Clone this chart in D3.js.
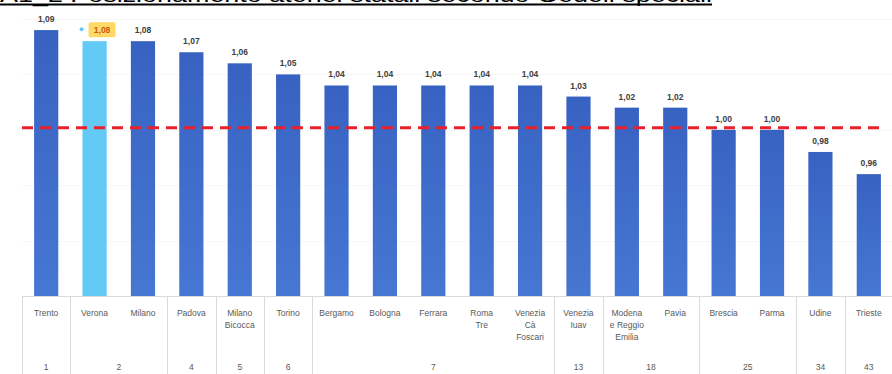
<!DOCTYPE html>
<meta charset="utf-8">
<style>
    body { margin: 0; background: #fff; }
    .val { font: bold 8.5px "Liberation Sans", Arial, sans-serif; fill: #404040; }
    .cat { font: 8.5px "Liberation Sans", Arial, sans-serif; fill: #595959; }
    .sep { stroke: #dadada; stroke-width: 1; }
    .grid { stroke: #f6f6f6; stroke-width: 1; }
</style>
<body>
<script src="https://d3js.org/d3.v7.min.js"></script>
<script>
// data
var atenei = ["Trento", "Verona", "Milano", "Padova", "Milano\nBicocca", "Torino", "Bergamo", "Bologna", "Ferrara",
    "Roma\nTre", "Venezia\nCà\nFoscari", "Venezia\nIuav", "Modena\ne Reggio\nEmilia", "Pavia", "Brescia", "Parma", "Udine", "Trieste"];
var valori = [1.09, 1.08, 1.08, 1.07, 1.06, 1.05, 1.04, 1.04, 1.04, 1.04, 1.04, 1.03, 1.02, 1.02, 1.00, 1.00, 0.98, 0.96];
var posizioni = [1, 2, 2, 4, 5, 6, 7, 7, 7, 7, 7, 13, 18, 18, 25, 25, 34, 43];
var soglia = 1.00;
var evidenziato = "Verona";
var gridTicks = [0.90, 0.95, 1.00, 1.05, 1.10];

var width = 892, height = 374;
var svg = d3.select("body").append("svg")
    .attr("width", width)
    .attr("height", height);

// title (cut off at the top, as in the original screenshot)
svg.append("text")
    .attr("x", 0)
    .attr("y", 2)
    .attr("textLength", 712)
    .attr("lengthAdjust", "spacingAndGlyphs")
    .style("font", "20px 'Liberation Sans', Arial, sans-serif")
    .style("fill", "#000")
    .text("A1_2 Posizionamento atenei statali secondo Gedeli speciali");
svg.append("line")
    .attr("x1", 0).attr("x2", 712)
    .attr("y1", 4.5).attr("y2", 4.5)
    .style("stroke", "#000").style("stroke-width", 2);

var x = d3.scaleBand()
    .domain(atenei)
    .range([22, 893])
    .paddingInner(0.5)
    .paddingOuter(0.25);

var y = d3.scaleLinear()
    .domain([0.85, 1.10])
    .range([296, 19]);

// bar gradient
var defs = svg.append("defs");
var grad = defs.append("linearGradient").attr("id", "blu")
    .attr("x1", 0).attr("x2", 0).attr("y1", 0).attr("y2", 1);
grad.append("stop").attr("offset", "0%").attr("stop-color", "#3862c2");
grad.append("stop").attr("offset", "100%").attr("stop-color", "#4677d2");

// gridlines (very faint)
svg.append("g").selectAll("line")
    .data(gridTicks)
    .enter().append("line")
    .attr("class", "grid")
    .attr("x1", 22).attr("x2", 893)
    .attr("y1", d => Math.round(y(d)) + 0.5)
    .attr("y2", d => Math.round(y(d)) + 0.5);

// bars
svg.append("g").selectAll("rect")
    .data(atenei)
    .enter().append("rect")
    .attr("x", d => x(d))
    .attr("width", x.bandwidth())
    .attr("y", (d, i) => y(valori[i]))
    .attr("height", (d, i) => y(0.85) - y(valori[i]))
    .attr("fill", d => d === evidenziato ? "#63caf6" : "url(#blu)");

// value labels
var lab = svg.append("g");
atenei.forEach(function (d, i) {
    var cx = x(d) + x.bandwidth() / 2;
    var ty = y(valori[i]) - 8;
    var txt = valori[i].toFixed(2).replace(".", ",");
    if (d === evidenziato) {
        lab.append("rect")
            .attr("x", cx - 6).attr("y", ty - 11)
            .attr("width", 27).attr("height", 15)
            .attr("rx", 2)
            .attr("fill", "#ffd966");
        lab.append("circle")
            .attr("cx", cx - 13).attr("cy", ty - 4)
            .attr("r", 2)
            .attr("fill", "#63caf6");
        lab.append("text")
            .attr("class", "val")
            .attr("x", cx + 7.5).attr("y", ty)
            .attr("text-anchor", "middle")
            .style("fill", "#c55a11")
            .text(txt);
    } else {
        lab.append("text")
            .attr("class", "val")
            .attr("x", cx).attr("y", ty)
            .attr("text-anchor", "middle")
            .text(txt);
    }
});

// threshold line
svg.append("line")
    .attr("x1", 22).attr("x2", 886)
    .attr("y1", y(soglia) - 2).attr("y2", y(soglia) - 2)
    .style("stroke", "#e8202a")
    .style("stroke-width", 3)
    .style("stroke-dasharray", "11,7");

// category axis as a table
var step = x.step();
var axisG = svg.append("g");
axisG.append("line")
    .attr("class", "sep")
    .attr("x1", 22).attr("x2", 893)
    .attr("y1", 296.5).attr("y2", 296.5);

atenei.forEach(function (d, i) {
    var cx = x(d) + x.bandwidth() / 2;
    var lines = d.split("\n");
    lines.forEach(function (l, k) {
        axisG.append("text")
            .attr("class", "cat")
            .attr("x", cx)
            .attr("y", 316 + k * 12)
            .attr("text-anchor", "middle")
            .text(l);
    });
});

// group separators and rank labels
var groups = [];
posizioni.forEach(function (p, i) {
    var g = groups[groups.length - 1];
    if (g && g.pos === p) g.end = i;
    else groups.push({ pos: p, start: i, end: i });
});
groups.forEach(function (g) {
    var left = x(atenei[g.start]) - x.paddingOuter() * step;
    var right = x(atenei[g.end]) - x.paddingOuter() * step + step;
    axisG.append("line")
        .attr("class", "sep")
        .attr("x1", Math.round(left) + 0.5).attr("x2", Math.round(left) + 0.5)
        .attr("y1", 297).attr("y2", height);
    axisG.append("text")
        .attr("class", "cat")
        .attr("x", (left + right) / 2)
        .attr("y", 370)
        .attr("text-anchor", "middle")
        .text(g.pos);
});
</script>
</body>
